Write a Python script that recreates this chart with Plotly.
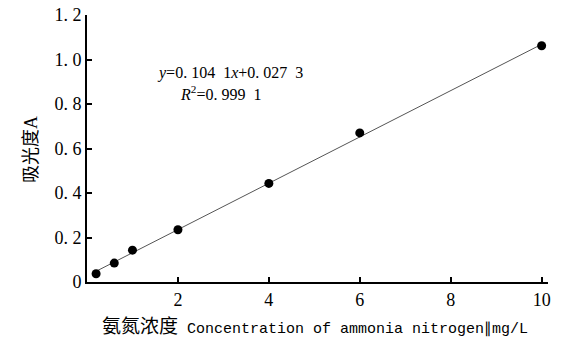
import plotly.graph_objects as go

conc = [0.2, 0.6, 1.0, 2.0, 4.0, 6.0, 10.0]
absorb = [0.037, 0.085, 0.143, 0.235, 0.443, 0.670, 1.062]
slope = 0.1041
intercept = 0.0273
fit_x = [0.2, 10.0]
fit_y = [slope * v + intercept for v in fit_x]

x_ticks = [2, 4, 6, 8, 10]
x_ticktext = ["2", "4", "6", "8", "10"]
y_ticks = [0, 0.2, 0.4, 0.6, 0.8, 1.0, 1.2]
y_ticktext = ["0", "0. 2", "0. 4", "0. 6", "0. 8", "1. 0", "1. 2"]

serif = "Liberation Serif, Noto Sans CJK SC, serif"

L, R, T, B = 87, 13, 15, 58
W, H = 561, 340
pw, ph = W - L - R, H - T - B


def px_x(v):
    return (v - L) / pw


def px_y(v):
    return (H - B - v) / ph


fig = go.Figure()
fig.add_trace(go.Scatter(x=fit_x, y=fit_y, mode="lines", hoverinfo="skip",
                         line=dict(color="#555555", width=1), showlegend=False))
fig.add_trace(go.Scatter(x=conc, y=absorb, mode="markers",
                         marker=dict(color="black", size=9), showlegend=False))

fig.add_annotation(x=px_x(155), y=px_y(73), xref="paper", yref="paper",
                   text="<i>y</i>=0. 104  1<i>x</i>+0. 027  3", showarrow=False,
                   xanchor="left", yanchor="middle",
                   font=dict(family=serif, size=16, color="black"))
fig.add_annotation(x=px_x(178), y=px_y(93), xref="paper", yref="paper",
                   text="<i>R</i><sup>2</sup>=0. 999  1", showarrow=False,
                   xanchor="left", yanchor="middle",
                   font=dict(family=serif, size=16, color="black"))

fig.add_annotation(x=px_x(315), y=px_y(327), xref="paper", yref="paper", showarrow=False,
                   text=('<span style="font-size:19px">氨氮浓度</span>'
                         '<span style="font-family:Liberation Mono">\u00a0Concentration of ammonia nitrogen∥mg/L</span>'),
                   xanchor="center", yanchor="middle",
                   font=dict(family=serif, size=15, color="black"))
fig.add_annotation(x=px_x(31), y=px_y(150), xref="paper", yref="paper", showarrow=False,
                   text="吸光度A", textangle=-90,
                   xanchor="center", yanchor="middle",
                   font=dict(family=serif, size=18, color="black"))

fig.update_layout(
    width=W, height=H,
    margin=dict(l=L, r=R, t=T, b=B),
    paper_bgcolor="white", plot_bgcolor="white",
    font=dict(family=serif, color="black", size=18),
    xaxis=dict(range=[0, 10.14], tickvals=x_ticks, ticktext=x_ticktext,
               showgrid=False, zeroline=False, showline=True, linecolor="black",
               linewidth=2, ticks="inside", ticklen=5, tickwidth=1.5, tickcolor="black",
               automargin=False),
    yaxis=dict(range=[0, 1.2], tickvals=y_ticks, ticktext=y_ticktext,
               showgrid=False, zeroline=False, showline=True, linecolor="black",
               linewidth=2, ticks="inside", ticklen=5, tickwidth=1.5, tickcolor="black",
               automargin=False),
)

fig.write_html("out.html", config={"displayModeBar": False},
               post_script="document.body.style.margin='0';")
